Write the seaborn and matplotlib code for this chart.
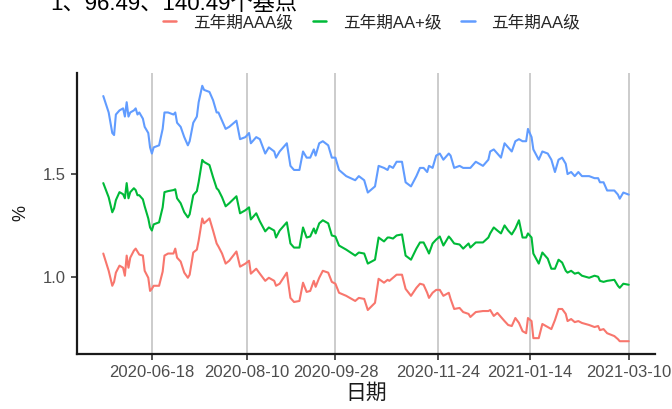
import pandas as pd
import matplotlib.pyplot as plt
import seaborn as sns

# 日期（三条曲线共用）
dates = [
    "2020-05-22", "2020-05-25", "2020-05-27", "2020-05-28", "2020-05-29", "2020-05-31", "2020-06-02", "2020-06-03",
    "2020-06-04", "2020-06-05", "2020-06-06", "2020-06-08", "2020-06-09", "2020-06-10", "2020-06-11", "2020-06-13",
    "2020-06-14", "2020-06-16", "2020-06-17", "2020-06-18", "2020-06-19", "2020-06-22", "2020-06-24", "2020-06-25",
    "2020-06-27", "2020-06-30", "2020-07-01", "2020-07-02", "2020-07-04", "2020-07-06", "2020-07-08", "2020-07-09",
    "2020-07-11", "2020-07-13", "2020-07-14", "2020-07-16", "2020-07-17", "2020-07-20", "2020-07-22", "2020-07-24",
    "2020-07-25", "2020-07-27", "2020-07-29", "2020-07-31", "2020-08-04", "2020-08-06", "2020-08-09", "2020-08-11",
    "2020-08-12", "2020-08-15", "2020-08-17", "2020-08-20", "2020-08-22", "2020-08-25", "2020-08-26", "2020-08-28",
    "2020-09-01", "2020-09-03", "2020-09-05", "2020-09-08", "2020-09-10", "2020-09-12", "2020-09-14", "2020-09-16",
    "2020-09-17", "2020-09-19", "2020-09-21", "2020-09-24", "2020-09-26", "2020-09-28", "2020-09-30", "2020-10-04",
    "2020-10-09", "2020-10-11", "2020-10-14", "2020-10-16", "2020-10-20", "2020-10-22", "2020-10-25", "2020-10-27",
    "2020-10-28", "2020-10-30", "2020-11-01", "2020-11-04", "2020-11-06", "2020-11-09", "2020-11-12", "2020-11-14",
    "2020-11-16", "2020-11-18", "2020-11-19", "2020-11-21", "2020-11-23", "2020-11-25", "2020-11-27", "2020-11-30",
    "2020-12-01", "2020-12-03", "2020-12-06", "2020-12-08", "2020-12-11", "2020-12-12", "2020-12-15", "2020-12-19",
    "2020-12-22", "2020-12-23", "2020-12-25", "2020-12-27", "2020-12-29", "2020-12-31", "2021-01-02", "2021-01-04",
    "2021-01-06", "2021-01-08", "2021-01-10", "2021-01-12", "2021-01-13", "2021-01-15", "2021-01-16", "2021-01-19",
    "2021-01-21", "2021-01-24", "2021-01-26", "2021-01-28", "2021-01-30", "2021-02-01", "2021-02-03", "2021-02-04",
    "2021-02-06", "2021-02-08", "2021-02-10", "2021-02-12", "2021-02-16", "2021-02-19", "2021-02-21", "2021-02-22",
    "2021-02-24", "2021-02-26", "2021-03-02", "2021-03-04", "2021-03-05", "2021-03-07", "2021-03-10",
]

# 五年期AAA级
aaa = [
    1.113, 1.029, 0.956, 0.975, 1.020, 1.054, 1.044, 1.005, 1.103, 1.044, 1.093, 1.127, 1.137, 1.123, 1.108, 1.103,
    1.029, 0.995, 0.931, 0.941, 0.956, 0.956, 1.025, 1.103, 1.113, 1.113, 1.137, 1.093, 1.074, 1.020, 0.995, 1.010,
    1.118, 1.132, 1.176, 1.284, 1.260, 1.284, 1.225, 1.162, 1.147, 1.113, 1.064, 1.078, 1.123, 1.049, 1.064, 1.078,
    1.015, 1.039, 1.015, 0.980, 0.995, 0.980, 0.956, 0.966, 1.020, 0.897, 0.877, 0.882, 0.971, 0.926, 0.931, 0.980,
    0.951, 0.995, 1.029, 1.020, 0.975, 0.966, 0.922, 0.907, 0.882, 0.897, 0.892, 0.838, 0.873, 0.990, 0.971, 0.985,
    0.980, 0.995, 1.010, 1.010, 0.941, 0.907, 0.946, 0.966, 0.961, 0.922, 0.897, 0.922, 0.936, 0.936, 0.907, 0.922,
    0.892, 0.843, 0.848, 0.828, 0.819, 0.804, 0.828, 0.833, 0.833, 0.838, 0.809, 0.824, 0.804, 0.784, 0.765, 0.760,
    0.799, 0.775, 0.735, 0.725, 0.799, 0.784, 0.701, 0.701, 0.770, 0.755, 0.745, 0.789, 0.843, 0.843, 0.819, 0.784,
    0.794, 0.779, 0.784, 0.775, 0.765, 0.755, 0.760, 0.740, 0.745, 0.725, 0.711, 0.696, 0.686, 0.686, 0.686,
]

# 五年期AA+级
aa_plus = [
    1.456, 1.387, 1.314, 1.333, 1.373, 1.412, 1.402, 1.382, 1.456, 1.382, 1.412, 1.431, 1.422, 1.397, 1.397, 1.377,
    1.343, 1.284, 1.240, 1.225, 1.255, 1.265, 1.338, 1.412, 1.417, 1.422, 1.426, 1.382, 1.358, 1.314, 1.289, 1.304,
    1.397, 1.417, 1.461, 1.569, 1.559, 1.544, 1.485, 1.431, 1.422, 1.387, 1.343, 1.358, 1.392, 1.309, 1.324, 1.338,
    1.279, 1.309, 1.270, 1.221, 1.240, 1.225, 1.191, 1.225, 1.265, 1.162, 1.142, 1.142, 1.240, 1.191, 1.196, 1.235,
    1.211, 1.260, 1.275, 1.260, 1.201, 1.196, 1.152, 1.132, 1.103, 1.118, 1.113, 1.064, 1.083, 1.191, 1.172, 1.191,
    1.191, 1.186, 1.201, 1.206, 1.103, 1.083, 1.137, 1.167, 1.167, 1.132, 1.113, 1.162, 1.181, 1.196, 1.152, 1.196,
    1.186, 1.162, 1.157, 1.137, 1.162, 1.142, 1.167, 1.167, 1.191, 1.211, 1.240, 1.225, 1.211, 1.250, 1.225, 1.206,
    1.235, 1.275, 1.191, 1.191, 1.211, 1.191, 1.113, 1.064, 1.118, 1.088, 1.039, 1.039, 1.083, 1.069, 1.029, 1.020,
    1.029, 1.015, 1.020, 1.005, 0.995, 1.005, 1.000, 0.980, 0.975, 0.980, 0.985, 0.956, 0.946, 0.966, 0.961,
]

# 五年期AA级
aa = [
    1.88, 1.80, 1.70, 1.69, 1.79, 1.81, 1.82, 1.78, 1.85, 1.78, 1.80, 1.81, 1.82, 1.79, 1.80, 1.77,
    1.73, 1.70, 1.63, 1.60, 1.63, 1.64, 1.72, 1.80, 1.80, 1.79, 1.80, 1.75, 1.73, 1.68, 1.64, 1.66,
    1.75, 1.78, 1.85, 1.93, 1.91, 1.90, 1.86, 1.80, 1.80, 1.76, 1.72, 1.73, 1.76, 1.67, 1.68, 1.70,
    1.65, 1.68, 1.67, 1.60, 1.63, 1.61, 1.58, 1.61, 1.65, 1.54, 1.52, 1.52, 1.61, 1.58, 1.58, 1.62,
    1.59, 1.65, 1.66, 1.64, 1.58, 1.58, 1.52, 1.49, 1.47, 1.49, 1.47, 1.41, 1.44, 1.54, 1.53, 1.52,
    1.54, 1.53, 1.56, 1.56, 1.46, 1.44, 1.49, 1.53, 1.53, 1.51, 1.54, 1.53, 1.59, 1.60, 1.57, 1.60,
    1.59, 1.53, 1.54, 1.53, 1.53, 1.53, 1.56, 1.54, 1.57, 1.61, 1.62, 1.60, 1.58, 1.65, 1.63, 1.61,
    1.66, 1.67, 1.66, 1.66, 1.72, 1.68, 1.62, 1.57, 1.61, 1.60, 1.57, 1.51, 1.57, 1.58, 1.55, 1.50,
    1.51, 1.49, 1.51, 1.49, 1.49, 1.48, 1.48, 1.46, 1.46, 1.42, 1.42, 1.40, 1.38, 1.41, 1.40,
]

series_names = ["五年期AAA级", "五年期AA+级", "五年期AA级"]
colors = ["#F8766D", "#00BA38", "#619CFF"]
tick_dates = ["2020-06-18", "2020-08-10", "2020-09-28", "2020-11-24", "2021-01-14", "2021-03-10"]
title_text = "1、96.49、140.49个基点"

# long format for seaborn
df = pd.DataFrame({"日期": pd.to_datetime(dates), series_names[0]: aaa,
                   series_names[1]: aa_plus, series_names[2]: aa})
long_df = df.melt(id_vars="日期", var_name="品种", value_name="%")

sns.set_theme(style="ticks")
plt.rcParams["font.family"] = ["Liberation Sans", "Noto Sans CJK SC"]

fig = plt.figure(figsize=(6.72, 4.09), dpi=100)
ax = fig.add_axes([0.1146, 0.1345, 0.8601, 0.687])

sns.lineplot(data=long_df, x="日期", y="%", hue="品种", hue_order=series_names,
             palette=colors, linewidth=1.5, ax=ax, legend=False)

# ggplot-like expansion of 5%
x0, x1 = df["日期"].min(), df["日期"].max()
pad = (x1 - x0) * 0.05
ax.set_xlim(x0 - pad, x1 + pad)
vals = long_df["%"]
ypad = (vals.max() - vals.min()) * 0.05
ax.set_ylim(vals.min() - ypad, vals.max() + ypad)

ticks = pd.to_datetime(tick_dates)
ax.set_xticks(ticks)
ax.set_xticklabels(tick_dates)
ax.set_yticks([1.0, 1.5])
ax.set_yticklabels(["1.0", "1.5"])
ax.tick_params(axis="both", labelsize=12, labelcolor="#4D4D4D", color="#333333",
               length=4, width=1.2, pad=4)

ax.grid(axis="x", color="#BEBEBE", linewidth=1.1)
ax.grid(axis="y", visible=False)
sns.despine(ax=ax)
for side in ["left", "bottom"]:
    ax.spines[side].set_color("#1a1a1a")
    ax.spines[side].set_linewidth(1.6)

ax.set_xlabel("日期", fontsize=15, color="#1a1a1a", labelpad=2)
ax.set_ylabel("%", fontsize=13, color="#1a1a1a", labelpad=10)

# legend on top
handles = [plt.Line2D([], [], color=c, linewidth=1.8) for c in colors]
fig.legend(handles, series_names, loc="center", bbox_to_anchor=(0.553, 0.946), ncol=3,
           frameon=False, fontsize=12, handlelength=0.8, handletextpad=1.0,
           columnspacing=1.2, labelcolor="#262626")

fig.text(50 / 672, 1 - 10 / 409, title_text, fontsize=16, color="black", va="baseline", ha="left")

fig.savefig("out.png", dpi=100)
